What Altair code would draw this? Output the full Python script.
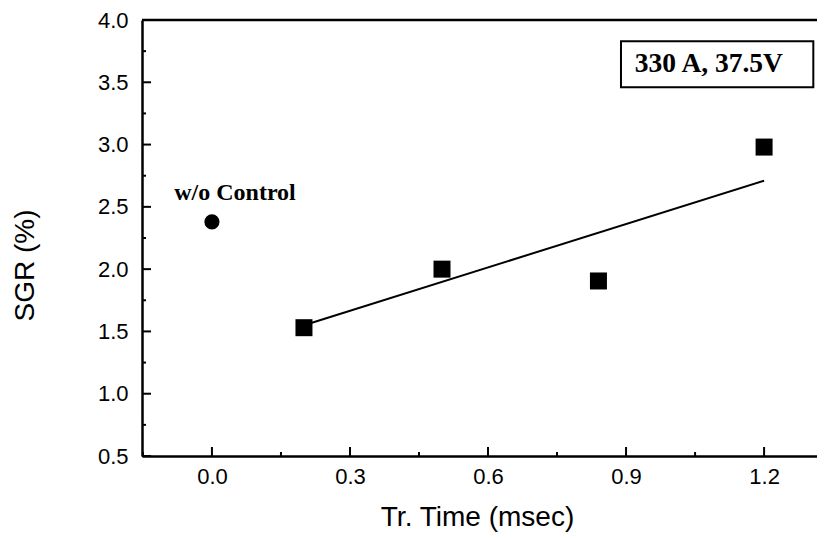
import altair as alt
import pandas as pd

# ---- data ----
ctrl_time = [0.0]
ctrl_sgr = [2.38]
tr_time = [0.2, 0.5, 0.84, 1.2]
sgr = [1.53, 2.0, 1.905, 2.98]
fit_time = [0.2, 1.2]
fit_sgr = [1.55, 2.71]

x_major = [0.0, 0.3, 0.6, 0.9, 1.2]
x_minor = [-0.15, 0.15, 0.45, 0.75, 1.05]
y_major = [0.5, 1.0, 1.5, 2.0, 2.5, 3.0, 3.5, 4.0]
y_minor = [0.75, 1.25, 1.75, 2.25, 2.75, 3.25, 3.75]

note_text = ["w/o Control"]
note_x = [-0.082]
note_y = [2.61]

box_text = ["330 A, 37.5V"]
box_x1 = [0.889]
box_x2 = [1.307]
box_y1 = [3.83]
box_y2 = [3.46]
box_tx = [1.08]
box_ty = [3.65]

# ---- layout ----
W, H = 675, 436
xs = alt.Scale(domain=[-0.152, 1.315], nice=False, zero=False)
ys = alt.Scale(domain=[0.5, 4.0], nice=False, zero=False)

x_axis = alt.Axis(values=x_major, format=".1f", title="Tr. Time (msec)",
                  grid=False, ticks=False, tickSize=0,
                  domainColor="black", domainWidth=2.5,
                  labelFont="Liberation Sans", labelFontSize=22, labelColor="black",
                  labelPadding=10,
                  titleFont="Liberation Sans", titleFontSize=28, titleFontWeight="normal",
                  titleColor="black", titleX=335, titleY=61,
                  titleAlign="center", titleBaseline="middle")
y_axis = alt.Axis(values=y_major, format=".1f", title="SGR (%)",
                  grid=False, ticks=False, tickSize=0,
                  domainColor="black", domainWidth=2.5,
                  labelFont="Liberation Sans", labelFontSize=22, labelColor="black",
                  labelPadding=14,
                  titleFont="Liberation Sans", titleFontSize=28, titleFontWeight="normal",
                  titleColor="black", titleAngle=270, titleX=-117, titleY=245,
                  titleAlign="center", titleBaseline="middle")


def X(field):
    return alt.X(field, scale=xs, axis=x_axis)


def Y(field):
    return alt.Y(field, scale=ys, axis=y_axis)


sq_df = pd.DataFrame({"t": tr_time, "s": sgr})
ctrl_df = pd.DataFrame({"t": ctrl_time, "s": ctrl_sgr})
fit_df = pd.DataFrame({"t": fit_time, "s": fit_sgr})

squares = alt.Chart(sq_df).mark_point(shape="square", filled=True, size=289,
                                      color="black", opacity=1).encode(
    x=X("t:Q"), y=Y("s:Q"))
circle = alt.Chart(ctrl_df).mark_point(shape="circle", filled=True, size=230,
                                       color="black", opacity=1).encode(
    x=X("t:Q"), y=Y("s:Q"))
fit = alt.Chart(fit_df).mark_line(color="black", strokeWidth=2).encode(
    x=X("t:Q"), y=Y("s:Q"))

# inward ticks
xt_major = alt.Chart(pd.DataFrame({"t": x_major})).mark_rule(color="black", strokeWidth=2).encode(
    x=X("t:Q"), y=alt.value(H), y2=alt.value(H - 9))
xt_minor = alt.Chart(pd.DataFrame({"t": x_minor})).mark_rule(color="black", strokeWidth=2).encode(
    x=X("t:Q"), y=alt.value(H), y2=alt.value(H - 4))
yt_major = alt.Chart(pd.DataFrame({"s": y_major})).mark_rule(color="black", strokeWidth=2).encode(
    y=Y("s:Q"), x=alt.value(0), x2=alt.value(9))
yt_minor = alt.Chart(pd.DataFrame({"s": y_minor})).mark_rule(color="black", strokeWidth=2).encode(
    y=Y("s:Q"), x=alt.value(0), x2=alt.value(4))

top_line = alt.Chart(pd.DataFrame({"a": [0]})).mark_rule(color="black", strokeWidth=2.5).encode(
    x=alt.value(0), x2=alt.value(W), y=alt.value(0))

note = alt.Chart(pd.DataFrame({"t": note_x, "s": note_y, "txt": note_text})).mark_text(
    font="Liberation Serif", fontWeight="bold", fontSize=24, color="black",
    align="left", baseline="middle").encode(
    x=X("t:Q"), y=Y("s:Q"), text="txt:N")

box = alt.Chart(pd.DataFrame({"t": box_x1, "x2": box_x2, "s": box_y1, "y2": box_y2})).mark_rect(
    fill="white", stroke="black", strokeWidth=2).encode(
    x=X("t:Q"), x2="x2:Q", y=Y("s:Q"), y2="y2:Q")
box_label = alt.Chart(pd.DataFrame({"t": box_tx, "s": box_ty, "txt": box_text})).mark_text(
    font="Liberation Serif", fontWeight="bold", fontSize=27.5, color="black",
    align="center", baseline="middle").encode(
    x=X("t:Q"), y=Y("s:Q"), text="txt:N")

chart = alt.layer(
    squares, xt_major, xt_minor, yt_major, yt_minor, top_line,
    fit, circle, note, box, box_label
).properties(
    width=W, height=H,
    autosize=alt.AutoSizeParams(type="none"),
    padding={"left": 134, "top": 12, "right": 0, "bottom": 76},
).configure_view(strokeWidth=0).configure_axis(
    labelFontSize=22, labelFont="Liberation Sans", labelColor="black"
).configure(background="white")

chart.save("out.html", embed_options={"renderer": "svg", "actions": False})
